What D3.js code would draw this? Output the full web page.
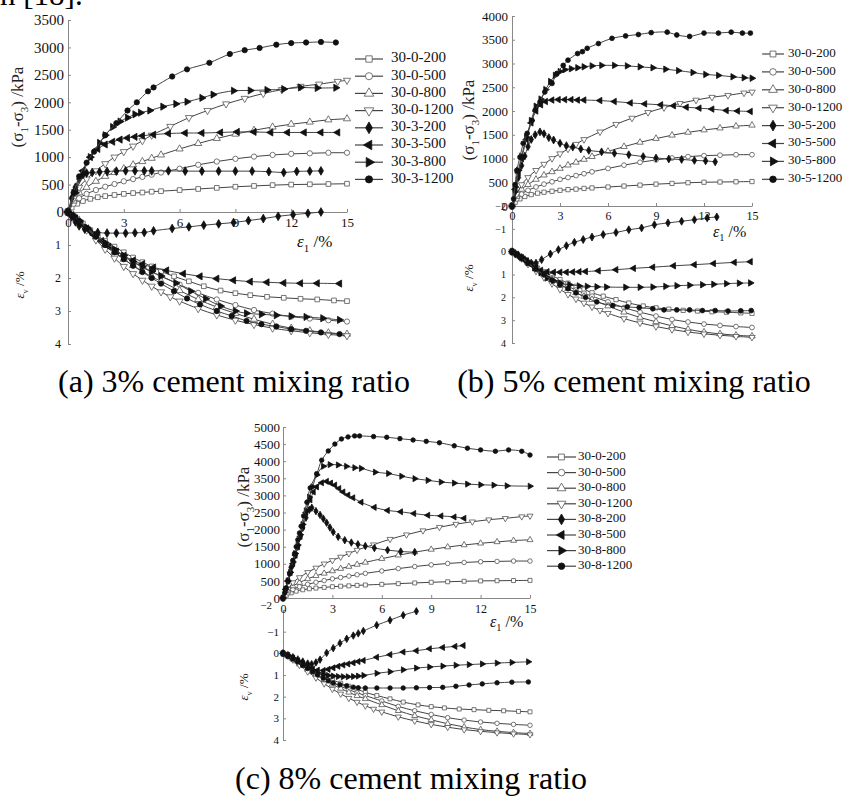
<!DOCTYPE html>
<html>
<head>
<meta charset='UTF-8'>
<title>Triaxial test curves</title>
<script src='https://d3js.org/d3.v7.min.js'></script>
<style>
  body { margin: 0; background: #fff; }
  svg { display: block; }
</style>
</head>
<body>
<div id='graph'></div>
<script>
// ---- data: [axial strain %, value] ----
// uncemented samples (same in all three panels)
var q0_200 = [[0,0],[0.2,80],[0.5,150],[0.8,200],[1.2,240],[1.6,270],[2,290],[2.5,310],[3,330],[3.5,345],[4,355],[4.5,370],[5,380],[6,400],[7,420],[8,440],[9,460],[10,475],[11,490],[12,500],[13,505],[14,510],[15,515]];
var q0_500 = [[0,0],[0.3,150],[0.6,250],[1,330],[1.5,400],[2,460],[2.5,510],[3,560],[3.5,600],[4,640],[4.5,680],[5,720],[6,790],[7,860],[8,920],[9,970],[10,1010],[11,1040],[12,1060],[13,1070],[14,1080],[15,1080]];
var q0_800 = [[0,0],[0.3,200],[0.6,350],[1,450],[1.5,560],[2,650],[2.5,720],[3,790],[3.5,860],[4,920],[4.5,980],[5,1040],[6,1150],[7,1250],[8,1340],[9,1420],[10,1490],[11,1550],[12,1600],[13,1640],[14,1680],[15,1700]];
var q0_1200 = [[0,0],[0.3,250],[0.6,450],[1,600],[1.5,750],[2,880],[2.5,1000],[3,1100],[3.5,1200],[4,1300],[4.5,1400],[5.5,1560],[6.5,1720],[7.5,1850],[8.5,1970],[9.5,2070],[10.5,2160],[11.5,2230],[12.5,2290],[13.5,2330],[14.5,2380],[15,2400]];
var ev0_200 = [[0,0],[0.2,0.08],[0.5,0.2],[0.8,0.35],[1.2,0.55],[1.6,0.72],[2,0.88],[2.5,1.05],[3,1.22],[3.5,1.38],[4,1.52],[4.5,1.65],[5,1.8],[5.7,1.95],[6.5,2.1],[7.3,2.25],[8.2,2.38],[9,2.46],[9.8,2.52],[10.7,2.57],[11.6,2.6],[12.5,2.63],[13.4,2.65],[14.3,2.68],[15,2.7]];
var ev0_500 = [[0,0],[0.3,0.12],[0.6,0.27],[1,0.48],[1.5,0.72],[2,0.95],[2.5,1.15],[3,1.35],[3.5,1.52],[4,1.68],[4.5,1.82],[5,1.95],[6,2.2],[7,2.45],[8,2.65],[9,2.82],[10,2.97],[11,3.08],[12,3.17],[13,3.23],[14,3.28],[15,3.32]];
var ev0_800 = [[0,0],[0.3,0.12],[0.6,0.27],[1,0.5],[1.5,0.75],[2,1],[2.5,1.22],[3,1.43],[3.5,1.62],[4,1.8],[4.5,1.96],[5,2.1],[6,2.38],[7,2.65],[8,2.88],[9,3.07],[10,3.25],[11,3.4],[12,3.52],[13,3.6],[14,3.66],[15,3.7]];
var ev0_1200 = [[0,0],[0.3,0.13],[0.6,0.3],[1,0.55],[1.5,0.85],[2,1.13],[2.5,1.4],[3,1.65],[3.5,1.87],[4,2.07],[4.5,2.25],[5,2.42],[5.5,2.57],[6,2.7],[7,2.93],[8,3.12],[9,3.28],[10,3.41],[11,3.52],[12,3.6],[13,3.66],[14,3.71],[15,3.75]];

// 3% cement
var q3_200 = [[0,0],[0.2,250],[0.4,450],[0.6,600],[0.8,680],[1,710],[1.3,720],[1.7,730],[2.1,740],[2.6,745],[3.1,750],[3.6,750],[4.1,750],[4.5,750],[5.4,750],[6.3,745],[7.2,745],[8.1,745],[9,745],[9.9,745],[10.8,735],[11.6,720],[12.3,740],[13,745],[13.6,750]];
var q3_500 = [[0,0],[0.4,400],[0.8,750],[1.2,1000],[1.6,1150],[2,1230],[2.4,1280],[2.8,1320],[3.2,1350],[3.6,1370],[4,1390],[4.6,1410],[5.4,1430],[6.3,1440],[7.2,1440],[8.2,1450],[9.1,1460],[10,1460],[10.9,1450],[11.8,1450],[12.7,1450],[13.6,1450],[14.5,1450]];
var q3_800 = [[0,0],[0.4,350],[0.8,700],[1.2,1000],[1.7,1260],[2,1400],[2.4,1550],[2.8,1650],[3.2,1720],[3.6,1780],[3.9,1810],[4.4,1850],[5.1,1920],[5.8,1970],[6.4,2010],[7.2,2080],[7.8,2140],[8.9,2210],[9.8,2215],[10.7,2225],[11.6,2240],[12.5,2270],[13.4,2260],[14.4,2265]];
var q3_1200 = [[0,0],[0.3,350],[0.6,650],[1,900],[1.4,1100],[2,1400],[2.6,1620],[3.2,1850],[3.7,2000],[4.3,2200],[4.6,2270],[5.6,2470],[6.4,2600],[7.6,2720],[8.7,2880],[9.5,2950],[10.3,2990],[11.2,3050],[12,3080],[12.8,3090],[13.6,3100],[14.4,3090]];
var ev3_200 = [[0,0],[0.2,0.15],[0.4,0.3],[0.6,0.42],[0.9,0.52],[1.2,0.58],[1.6,0.62],[2.1,0.64],[2.6,0.64],[3.1,0.64],[3.6,0.63],[4.1,0.62],[4.6,0.57],[5.6,0.5],[6.5,0.45],[7.3,0.4],[8.1,0.36],[8.9,0.32],[9.7,0.26],[10.5,0.2],[11.3,0.13],[12.1,0.08],[12.9,0.04],[13.6,0]];
var ev3_500 = [[0,0],[0.2,0.1],[0.4,0.2],[0.7,0.35],[1,0.5],[1.4,0.7],[1.8,0.88],[2.2,1.05],[2.6,1.2],[3,1.33],[3.5,1.47],[4,1.58],[4.6,1.68],[5.3,1.77],[6.2,1.87],[7.1,1.95],[8,2.02],[8.9,2.07],[9.8,2.11],[10.7,2.13],[11.6,2.15],[12.5,2.16],[13.4,2.16],[14.6,2.17]];
var ev3_800 = [[0,0],[0.3,0.12],[0.6,0.27],[1,0.47],[1.5,0.7],[2,0.93],[2.5,1.13],[3,1.32],[3.5,1.5],[4,1.66],[4.5,1.8],[5,1.94],[5.8,2.15],[6.6,2.4],[7.4,2.63],[8.2,2.85],[9,3],[9.6,3.07],[10.4,3.1],[11.2,3.13],[12,3.16],[12.8,3.18],[13.7,3.22],[14.6,3.27]];
var ev3_1200 = [[0,0],[0.3,0.12],[0.6,0.27],[1,0.5],[1.5,0.75],[2,1],[2.5,1.22],[3,1.43],[3.5,1.63],[4,1.82],[4.5,2],[5,2.17],[5.7,2.4],[6.4,2.62],[7.1,2.8],[8,3],[8.8,3.15],[9.6,3.3],[10.4,3.4],[11.2,3.47],[12,3.55],[12.8,3.6],[13.6,3.65],[14.6,3.7]];

// 5% cement
var q5_200 = [[0,0],[0.2,300],[0.4,600],[0.6,850],[0.8,1050],[1,1250],[1.2,1400],[1.45,1500],[1.75,1560],[2,1520],[2.3,1440],[2.6,1390],[3,1320],[3.4,1270],[3.8,1240],[4.3,1200],[4.8,1170],[5.6,1140],[6.4,1110],[7.3,1080],[8.2,1040],[9,1010],[9.8,990],[10.6,980],[11.4,960],[12.1,950],[12.7,930]];
var q5_500 = [[0,0],[0.2,350],[0.4,700],[0.6,1000],[0.9,1400],[1.2,1750],[1.5,2000],[1.8,2130],[2.1,2200],[2.5,2230],[2.9,2240],[3.3,2240],[3.7,2240],[4.1,2230],[4.5,2230],[5.5,2220],[6.4,2200],[7.4,2170],[8.3,2150],[9.3,2130],[10.1,2110],[10.9,2080],[11.7,2060],[12.5,2040],[13.4,2010],[14.1,2000],[14.9,1990]];
var q5_800 = [[0,0],[0.2,400],[0.4,750],[0.6,1050],[0.9,1450],[1.2,1800],[1.5,2100],[1.8,2250],[2.1,2450],[2.4,2620],[2.7,2750],[3,2830],[3.3,2870],[3.7,2890],[4.1,2910],[4.5,2930],[5,2950],[5.6,2960],[6.4,2960],[7.2,2950],[8,2930],[8.8,2910],[9.6,2880],[10.4,2850],[11.3,2810],[12.1,2770],[12.9,2750],[13.8,2720],[14.5,2700],[15,2690]];
var q5_1200 = [[0,0],[0.1,150],[0.2,450],[0.3,750],[0.5,1030],[0.7,1320],[0.95,1530],[1.25,1800],[1.45,2020],[1.75,2190],[2.05,2400],[2.5,2580],[2.8,2790],[3.2,2960],[3.5,3070],[4.1,3210],[4.4,3250],[4.7,3320],[5.4,3420],[6.25,3530],[7.1,3580],[7.9,3610],[8.7,3650],[9.7,3660],[10.3,3600],[11.1,3570],[12,3640],[12.9,3640],[13.7,3660],[14.4,3640],[14.9,3640]];
var ev5_200 = [[0,0],[0.2,0.08],[0.4,0.17],[0.6,0.26],[0.8,0.35],[1,0.45],[1.2,0.5],[1.5,0.5],[1.85,0.35],[2.4,0.1],[2.9,-0.09],[3.4,-0.26],[3.9,-0.41],[4.45,-0.53],[5,-0.64],[5.7,-0.75],[6.5,-0.84],[7.3,-0.96],[8.1,-1.04],[8.9,-1.18],[9.75,-1.26],[10.6,-1.33],[11.4,-1.4],[12.2,-1.48],[12.8,-1.52]];
var ev5_500 = [[0,0],[0.3,0.12],[0.6,0.26],[0.9,0.4],[1.2,0.55],[1.5,0.7],[1.8,0.82],[2.2,0.88],[2.6,0.9],[3,0.9],[3.4,0.9],[3.8,0.89],[4.2,0.88],[4.6,0.87],[5.4,0.84],[6.5,0.79],[7.6,0.73],[8.8,0.68],[10.1,0.62],[11.4,0.57],[12.6,0.52],[13.9,0.47],[14.9,0.44]];
var ev5_800 = [[0,0],[0.3,0.12],[0.6,0.27],[1,0.48],[1.4,0.7],[1.8,0.92],[2.2,1.15],[2.6,1.28],[3,1.37],[3.6,1.45],[4.2,1.5],[4.7,1.52],[5.3,1.54],[5.9,1.55],[7.1,1.56],[8,1.56],[8.8,1.55],[9.6,1.52],[10.3,1.49],[11.1,1.47],[11.9,1.45],[12.6,1.43],[13.4,1.4],[14.2,1.38],[14.9,1.37]];
var ev5_1200 = [[0,0],[0.3,0.12],[0.6,0.27],[1,0.5],[1.5,0.78],[2,1.02],[2.5,1.25],[3,1.45],[3.5,1.62],[4,1.8],[4.6,2],[5.3,2.2],[6.3,2.36],[7.2,2.42],[7.95,2.45],[8.8,2.5],[9.5,2.55],[10.3,2.55],[11.1,2.55],[11.9,2.58],[12.7,2.58],[13.5,2.6],[14.3,2.59],[14.95,2.58]];

// 8% cement
var q8_200 = [[0,0],[0.15,250],[0.3,500],[0.45,750],[0.6,1000],[0.75,1250],[0.9,1500],[1.05,1800],[1.2,2050],[1.4,2350],[1.6,2580],[1.75,2640],[2,2540],[2.25,2430],[2.45,2320],[2.65,2200],[2.85,2060],[3.05,1930],[3.35,1790],[3.75,1690],[4.15,1620],[4.55,1570],[5,1520],[5.55,1460],[6.35,1400],[7.15,1360],[8,1340]];
var q8_500 = [[0,0],[0.15,250],[0.3,500],[0.45,750],[0.6,1000],[0.75,1250],[0.9,1500],[1.05,1800],[1.2,2100],[1.4,2500],[1.65,2870],[1.85,3100],[2.05,3250],[2.35,3370],[2.65,3410],[2.9,3360],[3.15,3300],[3.4,3200],[3.65,3100],[3.95,3010],[4.25,2930],[4.75,2800],[5.55,2650],[6.35,2560],[7.15,2520],[7.95,2470],[8.8,2420],[9.6,2400],[10.4,2370],[11,2330]];
var q8_800 = [[0,0],[0.15,250],[0.3,500],[0.45,750],[0.6,1050],[0.75,1300],[0.9,1550],[1.05,1850],[1.2,2150],[1.4,2550],[1.6,2950],[1.8,3250],[2.05,3600],[2.45,3850],[2.85,3900],[3.35,3890],[3.85,3850],[4.35,3810],[4.75,3790],[5.6,3680],[6.4,3640],[7.2,3560],[8,3490],[8.8,3440],[9.6,3390],[10.4,3360],[11.2,3330],[12,3310],[12.8,3300],[13.6,3280],[15,3270]];
var q8_1200 = [[0,0],[0.1,150],[0.2,300],[0.3,500],[0.4,700],[0.5,900],[0.6,1100],[0.7,1300],[0.8,1500],[0.9,1700],[1,1900],[1.1,2100],[1.25,2400],[1.45,2800],[1.65,3220],[2.05,3630],[2.35,4030],[2.75,4300],[3.15,4500],[3.55,4650],[3.95,4710],[4.35,4740],[4.65,4740],[5.5,4720],[6.3,4700],[7.1,4660],[7.9,4620],[8.7,4580],[9.5,4540],[10.4,4450],[11.2,4380],[12,4330],[12.9,4290],[13.7,4330],[14.5,4290],[15,4180]];
var ev8_200 = [[0,0],[0.3,0.08],[0.6,0.18],[0.9,0.28],[1.2,0.38],[1.5,0.47],[1.74,0.5],[2,0.42],[2.25,0.29],[2.65,-0.02],[3.05,-0.24],[3.46,-0.47],[3.87,-0.67],[4.27,-0.82],[4.57,-0.92],[4.88,-1.03],[5.69,-1.3],[6.5,-1.53],[7.3,-1.76],[8.1,-1.94]];
var ev8_500 = [[0,0],[0.3,0.1],[0.6,0.22],[0.9,0.35],[1.2,0.5],[1.5,0.62],[1.8,0.72],[2.1,0.78],[2.45,0.79],[2.75,0.74],[3.05,0.67],[3.35,0.6],[3.65,0.54],[3.95,0.49],[4.27,0.44],[4.57,0.38],[4.88,0.33],[5.69,0.18],[6.5,0.06],[7.3,-0.06],[8.1,-0.12],[8.9,-0.21],[9.7,-0.27],[10.45,-0.32],[10.95,-0.36]];
var ev8_800 = [[0,0],[0.3,0.1],[0.6,0.22],[0.9,0.36],[1.2,0.5],[1.5,0.64],[1.8,0.78],[2.1,0.9],[2.45,0.98],[2.75,1.02],[3.05,1.05],[3.35,1.07],[3.65,1.08],[3.95,1.08],[4.27,1.07],[4.57,1.05],[4.9,1.02],[5.7,0.92],[6.5,0.85],[7.3,0.76],[8.1,0.68],[8.9,0.63],[9.7,0.59],[10.5,0.55],[11.3,0.52],[12.1,0.49],[13,0.45],[13.9,0.42],[14.9,0.39]];
var ev8_1200 = [[0,0],[0.3,0.12],[0.6,0.26],[0.9,0.4],[1.2,0.55],[1.5,0.7],[1.8,0.85],[2.1,1],[2.45,1.15],[2.75,1.27],[3.05,1.37],[3.46,1.45],[3.87,1.5],[4.27,1.56],[4.57,1.59],[5,1.6],[5.7,1.6],[6.5,1.6],[7.3,1.6],[8.1,1.59],[8.9,1.58],[9.7,1.57],[10.5,1.52],[11.3,1.46],[12.1,1.41],[13,1.36],[13.9,1.33],[14.9,1.32]];

var namesA = ['30-0-200', '30-0-500', '30-0-800', '30-0-1200', '30-3-200', '30-3-500', '30-3-800', '30-3-1200'];
var namesB = ['30-0-200', '30-0-500', '30-0-800', '30-0-1200', '30-5-200', '30-5-500', '30-5-800', '30-5-1200'];
var namesC = ['30-0-200', '30-0-500', '30-0-800', '30-0-1200', '30-8-200', '30-8-500', '30-8-800', '30-8-1200'];
var strainTicks = [0, 3, 6, 9, 12, 15];
var qTicksA = [0, 500, 1000, 1500, 2000, 2500, 3000, 3500];
var qTicksB = [0, 500, 1000, 1500, 2000, 2500, 3000, 3500, 4000];
var qTicksC = [0, 500, 1000, 1500, 2000, 2500, 3000, 3500, 4000, 4500, 5000];
var evTicksA = [1, 2, 3, 4];
var evTicksBC = [-2, -1, 0, 1, 2, 3, 4];
var captions = ['(a) 3% cement mixing ratio', '(b) 5% cement mixing ratio', '(c) 8% cement mixing ratio'];

var qUncem = [q0_200, q0_500, q0_800, q0_1200];
var evUncem = [ev0_200, ev0_500, ev0_800, ev0_1200];

// ---- drawing ----
var serif = "'Liberation Serif', 'Times New Roman', serif";
var svg = d3.select('#graph').append('svg')
    .attr('width', 848)
    .attr('height', 796)
    .style('font-family', serif);

var markers = [
    {type: d3.symbolSquare, rot: 0, filled: false},
    {type: d3.symbolCircle, rot: 0, filled: false},
    {type: d3.symbolTriangle, rot: 0, filled: false},
    {type: d3.symbolTriangle, rot: 180, filled: false},
    {type: d3.symbolDiamond, rot: 0, filled: true},
    {type: d3.symbolTriangle, rot: -90, filled: true},
    {type: d3.symbolTriangle, rot: 90, filled: true},
    {type: d3.symbolCircle, rot: 0, filled: true}
];

function drawMarker(g, m, size, cx, cy) {
    g.append('path')
     .attr('d', d3.symbol().type(m.type).size(size)())
     .attr('transform', 'translate(' + cx + ',' + cy + ') rotate(' + m.rot + ')')
     .attr('fill', m.filled ? '#111' : '#fff')
     .attr('stroke', m.filled ? '#111' : '#555')
     .attr('stroke-width', 0.8);
}

function drawSeries(g, data, x, y, m, size) {
    var line = d3.line()
        .x(d => x(d[0]))
        .y(d => y(d[1]))
        .curve(d3.curveCatmullRom.alpha(0.5));
    g.append('path')
     .datum(data)
     .attr('d', line)
     .attr('fill', 'none')
     .attr('stroke', '#444')
     .attr('stroke-width', 1);
    data.forEach(d => drawMarker(g, m, size, x(d[0]), y(d[1])));
}

function styleAxis(sel, fs) {
    sel.attr('font-family', serif);
    sel.select('.domain').attr('stroke', '#888');
    sel.selectAll('.tick line').attr('stroke', '#888');
    sel.selectAll('.tick text')
       .attr('fill', '#111')
       .style('font-family', serif)
       .style('font-size', fs + 'px');
}

function drawPanel(p) {
    var g = svg.append('g');
    var x = d3.scaleLinear().domain([0, 15]).range([p.x0, p.x1]);
    var yq = d3.scaleLinear().domain([0, p.qMax]).range([p.yAxis, p.qTop]);
    var yv = d3.scaleLinear().domain(p.evDomain).range(p.evRange);
    var fmt = d3.format('d');

    // upper stress axis
    g.append('g')
     .attr('transform', 'translate(' + p.x0 + ',0)')
     .call(d3.axisLeft(yq).tickValues(p.qTicks).tickFormat(fmt).tickSize(-3).tickSizeOuter(0).tickPadding(p.qPad))
     .call(s => styleAxis(s, p.qFs));

    // lower volumetric axis
    var lower = g.append('g')
     .attr('transform', 'translate(' + p.x0 + ',0)')
     .call(d3.axisLeft(yv).tickValues(p.evTicks).tickFormat(fmt).tickSize(-3).tickSizeOuter(0).tickPadding(p.evPad))
     .call(s => styleAxis(s, p.evFs));
    if (p.shiftTop) {
        lower.selectAll('.tick text').filter(d => d === -2)
             .attr('dx', p.shiftTop[0]).attr('y', p.shiftTop[1]);
    }

    // strain axis
    g.append('g')
     .attr('transform', 'translate(0,' + p.yAxis + ')')
     .call(d3.axisBottom(x).tickValues(strainTicks).tickFormat(fmt).tickSize(-3).tickSizeOuter(0).tickPadding(p.xPad))
     .call(s => styleAxis(s, p.xFs));

    // curves
    p.q.forEach((d, i) => drawSeries(g, d, x, yq, markers[i], p.ms));
    p.ev.forEach((d, i) => drawSeries(g, d, x, yv, markers[i], p.ms));

    // axis titles
    var t1 = g.append('text')
        .attr('transform', 'translate(' + p.qLab[0] + ',' + p.qLab[1] + ') rotate(-90)')
        .attr('text-anchor', 'middle')
        .attr('dominant-baseline', 'middle')
        .style('font-size', p.qLabFs + 'px')
        .attr('fill', '#222');
    t1.append('tspan').text('(σ');
    t1.append('tspan').attr('baseline-shift', 'sub').style('font-size', '65%').text('1');
    t1.append('tspan').text('-σ');
    t1.append('tspan').attr('baseline-shift', 'sub').style('font-size', '65%').text('3');
    t1.append('tspan').text(') /kPa');

    var t2 = g.append('text')
        .attr('transform', 'translate(' + p.evLab[0] + ',' + p.evLab[1] + ') rotate(-90)')
        .attr('text-anchor', 'middle')
        .attr('dominant-baseline', 'middle')
        .style('font-size', p.evLabFs + 'px')
        .attr('fill', '#222');
    t2.append('tspan').style('font-style', 'italic').text('ε');
    t2.append('tspan').attr('baseline-shift', 'sub').style('font-size', '65%').text('v');
    t2.append('tspan').text(' /%');

    var t3 = g.append('text')
        .attr('x', p.xLab[0])
        .attr('y', p.xLab[1])
        .attr('dominant-baseline', 'middle')
        .style('font-size', p.xLabFs + 'px')
        .attr('fill', '#111');
    t3.append('tspan').style('font-style', 'italic').text('ε');
    t3.append('tspan').attr('baseline-shift', 'sub').style('font-size', '65%').text('1');
    t3.append('tspan').text(' /%');

    // legend
    var L = p.leg;
    p.names.forEach((name, i) => {
        var ly = L.y0 + i * L.dy;
        g.append('line')
         .attr('x1', L.x0).attr('x2', L.x1)
         .attr('y1', ly).attr('y2', ly)
         .attr('stroke', '#444').attr('stroke-width', 1.2);
        drawMarker(g, markers[i], L.ms, (L.x0 + L.x1) / 2, ly);
        g.append('text')
         .attr('x', L.xt).attr('y', ly)
         .attr('dominant-baseline', 'middle')
         .style('font-size', L.fs + 'px')
         .attr('fill', '#111')
         .text(name);
    });

    // caption
    svg.append('text')
       .attr('x', p.cap[0]).attr('y', p.cap[1])
       .attr('text-anchor', 'middle')
       .style('font-size', '32px')
       .attr('fill', '#000')
       .text(p.caption);
}

// remnant of the paragraph above the figure
svg.append('text')
   .attr('x', 0).attr('y', 5)
   .style('font-size', '31px')
   .text('n [18].');

drawPanel({
    x0: 68, x1: 347, yAxis: 212, qMax: 3500, qTop: 20, qTicks: qTicksA,
    evDomain: [0, 4], evRange: [212, 344], evTicks: evTicksA,
    qPad: 4, qFs: 15, evPad: 7, evFs: 12, xPad: 6, xFs: 13,
    q: qUncem.concat([q3_200, q3_500, q3_800, q3_1200]),
    ev: evUncem.concat([ev3_200, ev3_500, ev3_800, ev3_1200]),
    ms: 22, names: namesA,
    qLab: [19, 107], qLabFs: 17, evLab: [21, 285], evLabFs: 13,
    xLab: [297, 243], xLabFs: 17,
    leg: {x0: 355, x1: 383, xt: 391, y0: 59, dy: 17.2, fs: 15, ms: 40},
    cap: [234, 392], caption: captions[0]
});

drawPanel({
    x0: 512, x1: 752, yAxis: 206, qMax: 4000, qTop: 16, qTicks: qTicksB,
    evDomain: [-2, 4], evRange: [206, 343], evTicks: evTicksBC,
    qPad: 4, qFs: 13, evPad: 6, evFs: 10, xPad: 5, xFs: 12,
    q: qUncem.concat([q5_200, q5_500, q5_800, q5_1200]),
    ev: evUncem.concat([ev5_200, ev5_500, ev5_800, ev5_1200]),
    ms: 18, names: namesB,
    qLab: [470, 120], qLabFs: 17, evLab: [470, 278], evLabFs: 13,
    xLab: [713, 233], xLabFs: 16,
    leg: {x0: 762, x1: 784, xt: 788, y0: 54, dy: 17.9, fs: 13, ms: 34},
    cap: [634, 392], caption: captions[1]
});

drawPanel({
    x0: 283, x1: 530, yAxis: 598, qMax: 5000, qTop: 427, qTicks: qTicksC,
    evDomain: [-2, 4], evRange: [610, 740], evTicks: evTicksBC,
    qPad: 3, qFs: 13, evPad: 4, evFs: 11, xPad: 6, xFs: 12,
    q: qUncem.concat([q8_200, q8_500, q8_800, q8_1200]),
    ev: evUncem.concat([ev8_200, ev8_500, ev8_800, ev8_1200]),
    ms: 16, names: namesC, shiftTop: [-7, -5],
    qLab: [245, 507], qLabFs: 17, evLab: [245, 687], evLabFs: 13,
    xLab: [490, 623], xLabFs: 16,
    leg: {x0: 547, x1: 576, xt: 578, y0: 457, dy: 15.6, fs: 13, ms: 34},
    cap: [411, 789], caption: captions[2]
});
</script>
</body>
</html>
